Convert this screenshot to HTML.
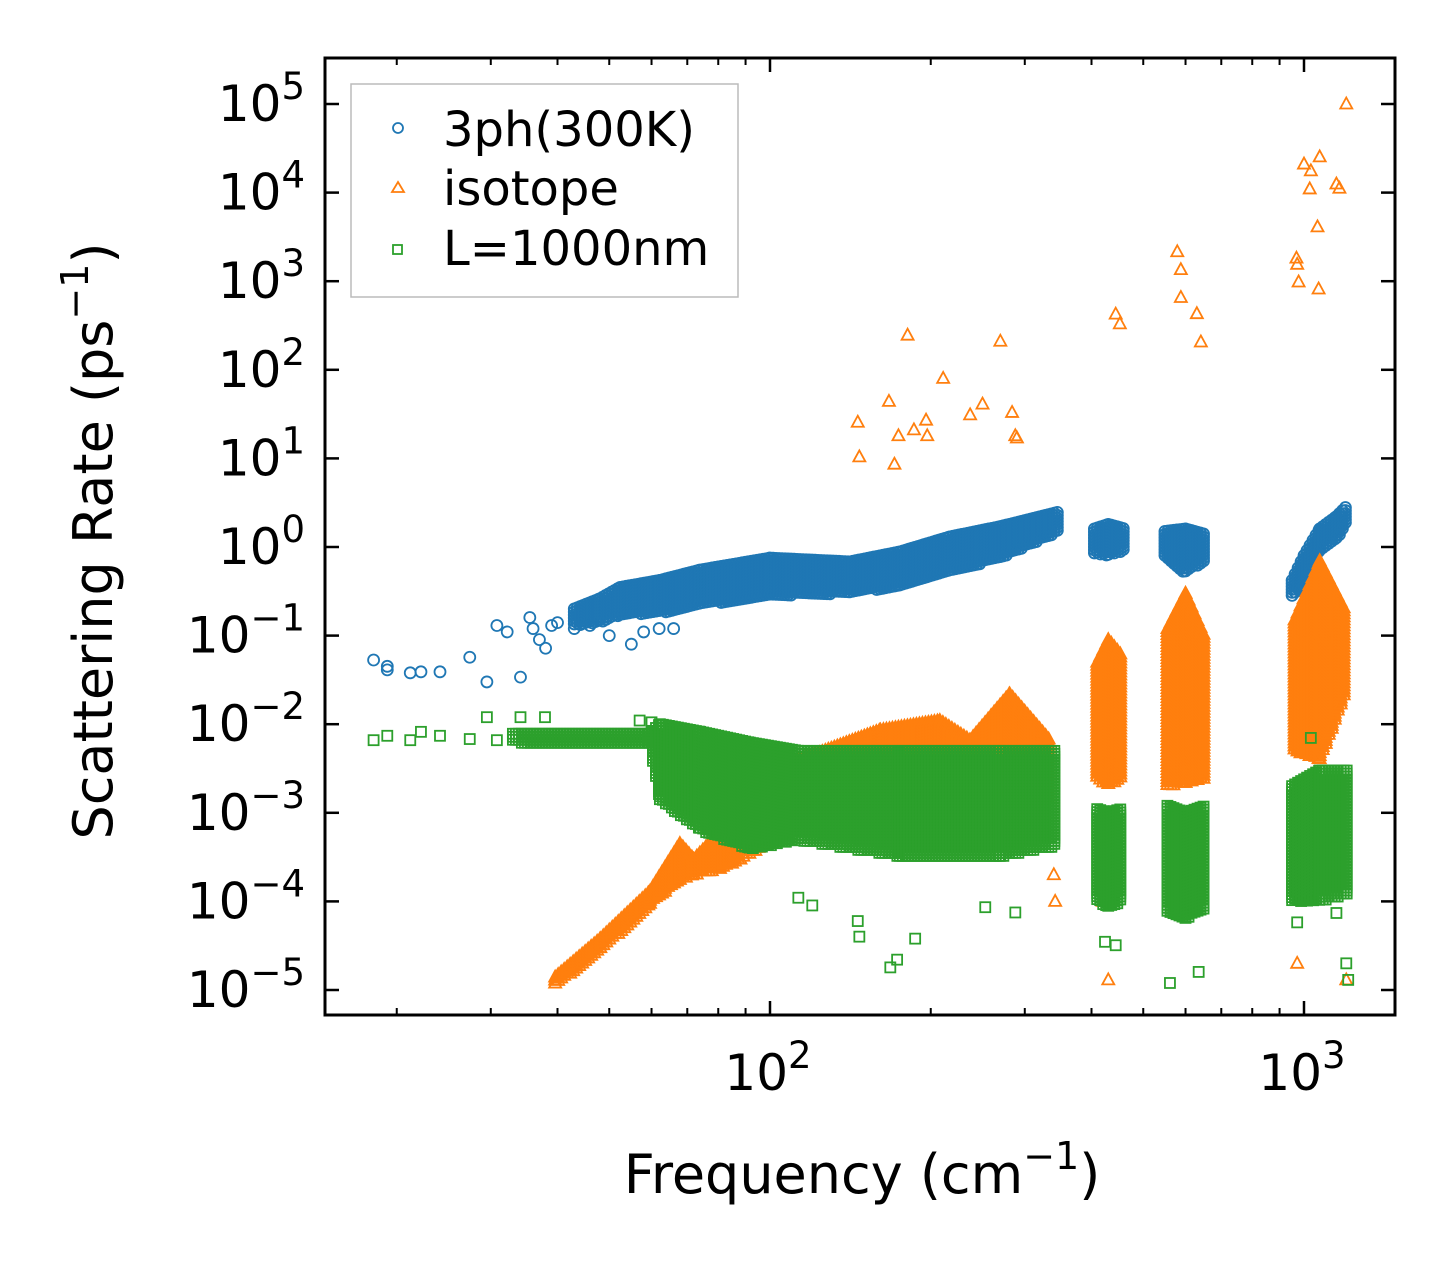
<!DOCTYPE html>
<html><head><meta charset="utf-8"><style>
html,body{margin:0;padding:0;background:#fff}
svg{display:block}
text{font-family:"DejaVu Sans","Liberation Sans",sans-serif;fill:#000}
</style></head><body>
<svg id="chart" width="1455" height="1265" viewBox="0 0 1455 1265" xmlns="http://www.w3.org/2000/svg">
<rect width="1455" height="1265" fill="#fff"/>
<g id="marks"></g>
<g id="axes"></g>
<text transform="translate(112,541) rotate(-90)" text-anchor="middle" font-size="54">Scattering Rate (ps<tspan font-size="38" dy="-24">−1</tspan><tspan dy="24">)</tspan></text>
<text x="862" y="1193" text-anchor="middle" font-size="54">Frequency (cm<tspan font-size="38" dy="-24">−1</tspan><tspan dy="24">)</tspan></text>
<g>
<rect x="351" y="84" width="387" height="213" fill="#fff" stroke="#bbb" stroke-width="1.5"/>
<circle cx="398" cy="128" r="5" fill="none" stroke="#1f77b4" stroke-width="1.8"/>
<text x="443" y="146" font-size="48">3ph(300K)</text>
<path d="M398,182 L404,192 L392,192 Z" fill="none" stroke="#ff7f0e" stroke-width="1.8"/>
<text x="443" y="205" font-size="48">isotope</text>
<rect x="393" y="245" width="9" height="9" fill="none" stroke="#2ca02c" stroke-width="1.8"/>
<text x="443" y="265" font-size="48">L=1000nm</text>
</g>
</svg>
<script>
// ---- data (frequency cm^-1, rate ps^-1) ----
const bluePoints = [[18.1,0.053],[19.2,0.045],[19.2,0.041],[21.2,0.038],[22.2,0.039],[24.1,0.039],[27.4,0.057],[29.5,0.030],[30.8,0.13],[32.2,0.11],[34.1,0.034],[35.5,0.16],[36,0.12],[37,0.09],[38,0.072],[39,0.13],[40,0.14],[43,0.12],[46,0.13],[50,0.10],[55,0.08],[58,0.11],[62,0.12],[66,0.12]];
// bands: each is a list of [freq, low, high]
const blueBands = [
 [[43,0.13,0.2],[48,0.14,0.26],[52.4,0.17,0.35],[62.2,0.18,0.42],[74,0.22,0.55],[100,0.28,0.75],[141,0.3,0.68],[175,0.36,0.88],[217,0.52,1.3],[270,0.75,1.7],[349,1.5,2.5]],
 [[405,0.85,1.6],[430,0.8,1.8],[462,0.9,1.6]],
 [[549,0.8,1.5],[600,0.5,1.6],[650,0.7,1.4]],
 [[950,0.28,0.42],[1000,0.35,0.8],[1070,0.9,1.6],[1150,1.2,2.2],[1210,2.0,3.0]]
];
const orangePoints = [[146,25.6],[147,10.4],[167,44],[171,8.6],[174,18],[181,246],[186,21],[196,27],[197,18],[211,80],[237,31],[250,41],[270,210],[284,33],[288,18],[290,17],[444,425],[452,330],[579,2150],[588,1350],[588,655],[630,430],[641,206],[968,1820],[971,1550],[977,980],[1000,21000],[1030,17600],[1025,11000],[1070,25300],[1060,4100],[1065,817],[1150,12500],[1165,11200],[1200,100000],[430,1.3e-5],[971,2e-5],[1200,1.3e-5],[342,1.0e-4],[340,2.0e-4],[420,1.0e-4]];
const orangeBands = [
 [[39.6,1.14e-5,1.4e-5],[48.1,2.8e-5,3.8e-5],[59.6,9.4e-5,1.3e-4],[67.8,1.76e-4,4.5e-4],[72,2.0e-4,3.0e-4],[80.6,2.3e-4,6.0e-4],[88,3.0e-4,3.0e-4],[95.8,3.9e-4,2.3e-3],[113,8.3e-4,3.9e-3],[161,1.4e-3,8.6e-3],[208,1.8e-3,1.1e-2],[237,1.4e-3,6.6e-3],[281,1.8e-3,2.2e-2],[334,1.4e-3,6.6e-3]],
 [[410,2.5e-3,0.05],[430,2e-3,0.09],[455,2.5e-3,0.06]],
 [[555,2e-3,0.12],[600,2.2e-3,0.30],[655,2.4e-3,0.09]],
 [[960,5e-3,0.15],[1070,4e-3,0.7],[1200,0.024,0.18]]
];
const greenPoints = [[18.1,6.6e-3],[19.2,7.4e-3],[21.2,6.6e-3],[22.2,8.2e-3],[24.1,7.4e-3],[27.4,6.8e-3],[29.5,1.2e-2],[30.8,6.6e-3],[34.1,1.2e-2],[37.9,1.2e-2],[57,1.1e-2],[60,1.05e-2],[113,1.1e-4],[120,9e-5],[146,6e-5],[147,4e-5],[168,1.8e-5],[173,2.2e-5],[187,3.8e-5],[253,8.6e-5],[288,7.5e-5],[424,3.5e-5],[444,3.2e-5],[561,1.2e-5],[635,1.6e-5],[971,5.8e-5],[1150,7.4e-5],[1200,2e-5],[1030,7e-3],[1210,1.3e-5]];
const greenBands = [
 [[33,6.2e-3,7.8e-3],[59.6,5.8e-3,7.8e-3],[62.2,1.4e-3,1.0e-2],[74,6.4e-4,8.2e-3],[91.7,3.9e-4,6.2e-3],[113,4.9e-4,5.0e-3],[175,3.2e-4,5.0e-3],[270,3.2e-4,5.0e-3],[342,4.2e-4,5.0e-3]],
 [[410,1.0e-4,1.1e-3],[430,8.5e-5,1.0e-3],[455,1.0e-4,1.1e-3]],
 [[555,7.5e-5,1.2e-3],[600,6.5e-5,1.0e-3],[655,8e-5,1.2e-3]],
 [[950,1.0e-4,2.0e-3],[1070,1.0e-4,3.0e-3],[1210,1.2e-4,3.0e-3]]
];
const yTicks = [-5,-4,-3,-2,-1,0,1,2,3,4,5];
const xTicks = [2,3];

// ---- axes ----
const L=325,R=1395,T=58,B=1015;
const xs = f => 770 + (Math.log10(f)-2)*534;
const ys = v => 547 - Math.log10(v)*88.6;
const NS="http://www.w3.org/2000/svg";
function mk(tag, attrs, parent){const e=document.createElementNS(NS,tag);for(const k in attrs)e.setAttribute(k,attrs[k]);parent.appendChild(e);return e;}
const marks=document.getElementById('marks'), axes=document.getElementById('axes');

function marker(kind,x,y,g){
  let e;
  if(kind==='c') e=mk('circle',{cx:x,cy:y,r:5.5,fill:'none',stroke:'#1f77b4','stroke-width':1.8},g);
  else if(kind==='t') e=mk('path',{d:`M${x},${y-6.5} L${x+6},${y+4.5} L${x-6},${y+4.5} Z`,fill:'none',stroke:'#ff7f0e','stroke-width':1.8},g);
  else e=mk('rect',{x:x-5,y:y-5,width:10,height:10,fill:'none',stroke:'#2ca02c','stroke-width':1.8},g);
  return e;
}
function drawSeries(name,kind,points,bands){
  const g=mk('g',{},marks);
  
  
  bands.forEach(band=>{
    for(let i=0;i<band.length-1;i++){
      const a=band[i],b=band[i+1];
      const x0=xs(a[0]),x1=xs(b[0]);
      for(let x=x0;x<x1;x+=3){
        const t=(x-x0)/(x1-x0||1);
        const ylo=ys(a[1])+(ys(b[1])-ys(a[1]))*t;
        const yhi=ys(a[2])+(ys(b[2])-ys(a[2]))*t;
        for(let y=yhi;y<=ylo+0.01;y+=3){
          const m=marker(kind,x,y,g);
          
          
        }
        if(ylo-yhi<3){const m=marker(kind,x,ylo,g);
          
          }
      }
    }
  });
  points.forEach(p=>{
    const m=marker(kind,xs(p[0]),ys(p[1]),g);
    
    
  });
}
drawSeries('series-3ph','c',bluePoints,blueBands);
drawSeries('series-isotope','t',orangePoints,orangeBands);
drawSeries('series-boundary','s',greenPoints,greenBands);

// frame
const fr=mk('rect',{x:L,y:T,width:R-L,height:B-T,fill:'none',stroke:'#000','stroke-width':3},axes);


// y ticks
yTicks.forEach(p=>{
  const y=ys(Math.pow(10,p));
  mk('line',{x1:L,x2:L+14,y1:y,y2:y,stroke:'#000','stroke-width':2.5},axes);
  mk('line',{x1:R,x2:R-14,y1:y,y2:y,stroke:'#000','stroke-width':2.5},axes);
  const t=mk('text',{x:305,y:y+17,'text-anchor':'end','font-size':50},axes);
  
  
  t.innerHTML='10<tspan font-size="37" dy="-22">'+(p<0?'−'+(-p):p)+'</tspan>';
});
// x ticks
for(let d=1;d<=3;d++){
  for(let m=1;m<=9;m++){
    const f=m*Math.pow(10,d), x=xs(f);
    if(x<L+1||x>R-1) continue;
    const len=m===1?14:7;
    mk('line',{x1:x,x2:x,y1:B,y2:B-len,stroke:'#000','stroke-width':m===1?2.5:2},axes);
    mk('line',{x1:x,x2:x,y1:T,y2:T+len,stroke:'#000','stroke-width':m===1?2.5:2},axes);
  }
}
xTicks.forEach(p=>{
  const t=mk('text',{x:xs(Math.pow(10,p))-2,y:1090,'text-anchor':'middle','font-size':50},axes);
  
  
  t.innerHTML='10<tspan font-size="37" dy="-22">'+p+'</tspan>';
});
</script>
</body></html>
